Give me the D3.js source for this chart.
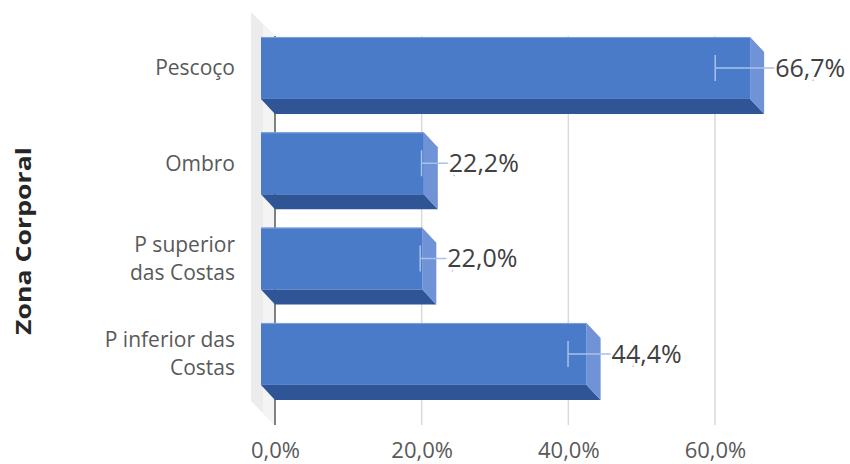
<!DOCTYPE html>
<html>
<head>
<meta charset="utf-8">
<script src="https://cdn.jsdelivr.net/npm/d3@7"></script>
<style>
  html, body { margin: 0; padding: 0; background: #fff; }
  svg { display: block; }
</style>
</head>
<body>
<svg id="chart" width="850" height="464"></svg>
<script>
const categories = ["Pescoço", "Ombro", "P superior das Costas", "P inferior das Costas"];
const categoryLines = [["Pescoço"], ["Ombro"], ["P superior", "das Costas"], ["P inferior das", "Costas"]];
const values = [0.667, 0.222, 0.220, 0.444];
const valueLabels = ["66,7%", "22,2%", "22,0%", "44,4%"];
const errorPct = 0.10;
const tickValues = [0, 0.2, 0.4, 0.6];
const tickLabels = ["0,0%", "20,0%", "40,0%", "60,0%"];
const axisTitle = "Zona Corporal";

const svg = d3.select("#chart");
const x = d3.scaleLinear().domain([0, 0.6]).range([275, 715]);
const y = d3.scaleBand().domain(categories).range([20.3, 401.6]).paddingInner(0.35).paddingOuter(0.175);
const dx = -14, dy = 15;   // depth offset: front face is shifted (dx, -dy) from back plane
const bw = y.bandwidth();
const FONT = "'Open Sans', sans-serif";

// Side wall
svg.append("polygon")
  .attr("points", [[251, 12], [275, 36], [275, 425], [251, 401]].map(p => p.join(",")).join(" "))
  .attr("fill", "#ececec");
svg.append("polygon")
  .attr("points", [[263, 24], [275, 36], [275, 425], [263, 413]].map(p => p.join(",")).join(" "))
  .attr("fill", "#f4f4f4");

// Gridlines
svg.append("g").selectAll("line").data(tickValues.slice(1)).join("line")
  .attr("x1", d => x(d)).attr("x2", d => x(d))
  .attr("y1", 36).attr("y2", 425)
  .attr("stroke", "#d9d9d9").attr("stroke-width", 1.5);

// Axis line at 0
svg.append("line")
  .attr("x1", x(0)).attr("x2", x(0)).attr("y1", 36).attr("y2", 425)
  .attr("stroke", "#595959").attr("stroke-width", 1.5);

// Tick labels via d3 axis
const axisG = svg.append("g").attr("transform", "translate(0,436)")
  .call(d3.axisBottom(x).tickValues(tickValues).tickFormat((d, i) => tickLabels[i]).tickSize(0).tickPadding(6));
axisG.select(".domain").remove();
axisG.selectAll("text")
  .attr("font-family", FONT)
  .attr("font-size", 22)
  .attr("fill", "#595959");

// Bars
const bars = svg.append("g").selectAll("g").data(categories).join("g");
bars.each(function(c, i) {
  const g = d3.select(this);
  const top = y(c), bot = top + bw;
  const x0 = x(0), xv = x(values[i]);
  // bottom face
  g.append("polygon")
    .attr("points", [[x0 + dx, bot], [xv + dx, bot], [xv, bot + dy], [x0, bot + dy]].map(p => p.join(",")).join(" "))
    .attr("fill", "#2f5597");
  // side face
  g.append("polygon")
    .attr("points", [[xv + dx, top], [xv, top + dy], [xv, bot + dy], [xv + dx, bot]].map(p => p.join(",")).join(" "))
    .attr("fill", "#6f93d6");
  // front face
  g.append("rect")
    .attr("x", x0 + dx).attr("y", top)
    .attr("width", xv - x0).attr("height", bw)
    .attr("fill", "#4a7bc9");
  // top highlight edge
  g.append("line")
    .attr("x1", x0 + dx).attr("x2", xv + dx).attr("y1", top + 0.5).attr("y2", top + 0.5)
    .attr("stroke", "#7fa2dc").attr("stroke-width", 1);

  // error bar
  const cy = top + bw / 2;
  const xm = x(values[i] * (1 - errorPct)), xp = x(values[i] * (1 + errorPct));
  const ec = "#a8c1ea";
  g.append("line").attr("x1", xm).attr("x2", xp).attr("y1", cy).attr("y2", cy)
    .attr("stroke", ec).attr("stroke-width", 1.5);
  g.append("line").attr("x1", xm).attr("x2", xm).attr("y1", cy - 13).attr("y2", cy + 13)
    .attr("stroke", ec).attr("stroke-width", 1.5);
  g.append("line").attr("x1", xp).attr("x2", xp).attr("y1", cy - 13).attr("y2", cy + 13)
    .attr("stroke", ec).attr("stroke-width", 1.5);

  // value label with white background
  const lx = xv + 11;
  const t = g.append("text")
    .attr("x", lx).attr("y", cy).attr("dy", "0.35em")
    .attr("font-family", FONT)
    .attr("font-size", 25)
    .attr("fill", "#404040")
    .text(valueLabels[i]);
  const bb = t.node().getBBox();
  g.insert("rect", "text")
    .attr("x", bb.x - 1).attr("y", bb.y + 4).attr("width", bb.width + 2).attr("height", bb.height - 8)
    .attr("fill", "#fff").attr("opacity", 0.88);
});

// Category labels (one text element per line)
const catG = svg.append("g");
categories.forEach((c, i) => {
  const lines = categoryLines[i];
  const cy = y(c) + bw / 2;
  const lh = 28;
  lines.forEach((l, j) => {
    catG.append("text")
      .attr("text-anchor", "end")
      .attr("font-family", FONT)
      .attr("font-size", 21)
      .attr("fill", "#595959")
      .attr("x", 235)
      .attr("y", cy + (j - (lines.length - 1) / 2) * lh)
      .attr("dy", "0.35em").text(l);
  });
});

// Axis title
svg.append("text")
  .attr("transform", "translate(23,241) rotate(-90)")
  .attr("text-anchor", "middle").attr("dy", "0.35em")
  .attr("font-family", FONT)
  .attr("font-weight", "bold")
  .attr("font-size", 22)
  .attr("textLength", 188).attr("lengthAdjust", "spacingAndGlyphs")
  .attr("fill", "#262626")
  .text(axisTitle);
</script>
</body>
</html>
